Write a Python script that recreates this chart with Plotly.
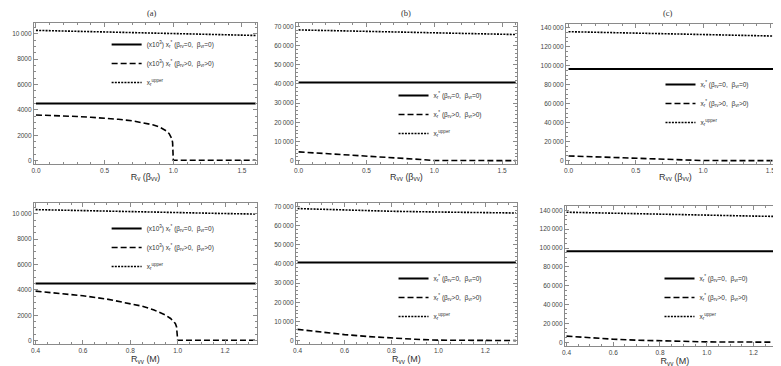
import plotly.graph_objects as go

W, H = 781, 366

# ---------------- data ----------------
# top row: x = R_v(beta_vv)
xa_top = [0, 0.1, 0.2, 0.3, 0.4, 0.5, 0.6, 0.7, 0.8, 0.85, 0.9, 0.93, 0.95, 0.97, 0.98, 0.99, 0.995, 1.0, 1.01, 1.1, 1.2, 1.3, 1.4, 1.5, 1.6]
dash_a_top = [3600, 3570, 3530, 3480, 3420, 3350, 3260, 3140, 2960, 2830, 2650, 2490, 2340, 2130, 1970, 1720, 1420, 40, 40, 40, 40, 40, 40, 40, 40]
xu_top = [0, 0.2, 0.4, 0.6, 0.8, 1.0, 1.2, 1.4, 1.6]
upper_a_top = [10260, 10210, 10160, 10110, 10060, 10010, 9960, 9910, 9860]
solid_a = 4500

xb_top = [0, 0.2, 0.4, 0.6, 0.8, 0.9, 1.0, 1.2, 1.4, 1.6]
dash_b_top = [4600, 3800, 2950, 2050, 1150, 650, 120, 60, 60, 60]
upper_b_top = [68100, 67800, 67500, 67200, 66900, 66600, 66300, 66000, 65700]
solid_b = 40700

xc_top = [0, 0.2, 0.4, 0.6, 0.8, 0.9, 1.0, 1.2, 1.4, 1.6]
dash_c_top = [5000, 4100, 3200, 2200, 1200, 700, 150, 80, 80, 80]
upper_c_top = [135800, 135200, 134600, 134000, 133400, 132800, 132200, 131600, 131000]
solid_c = 96500

# bottom row: x = R_vv(M)
xa_bot = [0.4, 0.5, 0.6, 0.7, 0.8, 0.85, 0.9, 0.93, 0.95, 0.97, 0.98, 0.99, 0.995, 1.0, 1.01, 1.1, 1.2, 1.33]
dash_a_bot = [3900, 3730, 3540, 3280, 2940, 2720, 2420, 2200, 2000, 1750, 1580, 1350, 1100, 40, 40, 40, 40, 40]
xu_bot = [0.4, 0.6, 0.8, 1.0, 1.2, 1.33]
upper_a_bot = [10320, 10230, 10150, 10080, 10010, 9970]

xbc_bot = [0.4, 0.5, 0.6, 0.7, 0.8, 0.9, 1.0, 1.1, 1.2, 1.33]
dash_b_bot = [5900, 4400, 3200, 2200, 1400, 750, 300, 150, 100, 80]
upper_b_bot = [68800, 68000, 67400, 67000, 66700, 66500]
dash_c_bot = [6500, 4600, 3200, 2200, 1450, 800, 350, 200, 150, 120]
upper_c_bot = [138000, 136800, 135600, 134700, 133900, 133400]

panel_titles = ["(a)", "(b)", "(c)"]
xlabel_top = ["R<sub>v</sub> (β<sub>vv</sub>)", "R<sub>vv</sub> (β<sub>vv</sub>)", "R<sub>vv</sub> (β<sub>vv</sub>)"]
xlabel_bot = "R<sub>vv</sub> (M)"

xt_top = [0, 0.5, 1.0, 1.5]
xt_top_txt = ["0.0", "0.5", "1.0", "1.5"]
xt_bot = [0.4, 0.6, 0.8, 1.0, 1.2]
xt_bot_txt = ["0.4", "0.6", "0.8", "1.0", "1.2"]
yt_a = [0, 2000, 4000, 6000, 8000, 10000]
yt_a_txt = ["0", "2000", "4000", "6000", "8000", "10\u2009000"]
yt_b = [0, 10000, 20000, 30000, 40000, 50000, 60000, 70000]
yt_b_txt = ["0", "10\u2009000", "20\u2009000", "30\u2009000", "40\u2009000", "50\u2009000", "60\u2009000", "70\u2009000"]
yt_c = [0, 20000, 40000, 60000, 80000, 100000, 120000, 140000]
yt_c_txt = ["0", "20\u2009000", "40\u2009000", "60\u2009000", "80\u2009000", "100\u2009000", "120\u2009000", "140\u2009000"]

lab_solid_a = "(x10<sup>3</sup>) x<sub>r</sub><sup>*</sup> (β<sub>rv</sub>=0,  β<sub>vr</sub>=0)"
lab_dash_a = "(x10<sup>3</sup>) x<sub>r</sub><sup>*</sup> (β<sub>rv</sub>>0,  β<sub>vr</sub>>0)"
lab_solid = "x<sub>r</sub><sup>*</sup> (β<sub>rv</sub>=0,  β<sub>vr</sub>=0)"
lab_dash = "x<sub>r</sub><sup>*</sup> (β<sub>rv</sub>>0,  β<sub>vr</sub>>0)"
lab_upper = "x<sub>r</sub><sup>upper</sup>"

# ---------------- layout geometry (pixels) ----------------
def px_x(p):
    return p / W

def px_y(p):
    return 1 - p / H

cols_top = [(23, 247), (286, 508), (557, 777)]
cols_bot = [(23, 247), (286, 508), (556, 777)]
rows_top = [(15, 156), (15, 156), (16, 156)]
rows_bot = [(195, 336), (195, 336), (198, 338)]

fig = go.Figure()

FRAME = "#8a8a8a"
SANS = "Liberation Sans, Arial, sans-serif"
TICKFONT = dict(family=SANS, size=6.5, color="#444")

panels = []
panels.append(("top", 0, xa_top, dash_a_top, xu_top, upper_a_top, solid_a, (lab_solid_a, lab_dash_a), [-0.015, 1.61], [-260, 10840], yt_a, yt_a_txt, 500))
panels.append(("top", 1, xb_top, dash_b_top, xu_top, upper_b_top, solid_b, (lab_solid, lab_dash), [-0.02, 1.61], [-1700, 71700], yt_b, yt_b_txt, 2000))
panels.append(("top", 2, xc_top, dash_c_top, xu_top, upper_c_top, solid_c, (lab_solid, lab_dash), [-0.02, 1.61], [-3500, 143900], yt_c, yt_c_txt, 5000))
panels.append(("bot", 0, xa_bot, dash_a_bot, xu_bot, upper_a_bot, solid_a, (lab_solid_a, lab_dash_a), [0.393, 1.335], [-260, 10840], yt_a, yt_a_txt, 500))
panels.append(("bot", 1, xbc_bot, dash_b_bot, xu_bot, upper_b_bot, solid_b, (lab_solid, lab_dash), [0.393, 1.335], [-1700, 71700], yt_b, yt_b_txt, 2000))
panels.append(("bot", 2, xbc_bot, dash_c_bot, xu_bot, upper_c_bot, solid_c, (lab_solid, lab_dash), [0.393, 1.335], [-4000, 144600], yt_c, yt_c_txt, 5000))

# legend pixel anchors (text start x, middle item centre y)
legend_pos = {
    ("top", 0): (144, 63), ("top", 1): (432, 114), ("top", 2): (700, 103),
    ("bot", 0): (144, 247), ("bot", 1): (432, 297), ("bot", 2): (699, 297),
}

annotations = []
for i, (row, c, xd, yd, xu, yu, sval, labs, xr, yr, ytv, ytt, ymin) in enumerate(panels):
    n = i + 1
    xa = "x" if n == 1 else f"x{n}"
    ya = "y" if n == 1 else f"y{n}"
    leg = "legend" if n == 1 else f"legend{n}"
    xs = [xd[0], xd[-1]]
    fig.add_trace(go.Scatter(x=xs, y=[sval, sval], mode="lines", xaxis=xa, yaxis=ya,
                             line=dict(color="black", width=2), name=labs[0], legend=leg,
                             legendgroup=f"g{n}a"))
    fig.add_trace(go.Scatter(x=xd, y=yd, mode="lines", xaxis=xa, yaxis=ya,
                             line=dict(color="black", width=1.6, dash="6px,3px"), name=labs[1], legend=leg,
                             legendgroup=f"g{n}b"))
    fig.add_trace(go.Scatter(x=xu, y=yu, mode="lines", xaxis=xa, yaxis=ya,
                             line=dict(color="black", width=1.6, dash="2px,1.2px"), name=lab_upper, legend=leg,
                             legendgroup=f"g{n}c"))

    cx = (cols_top if row == "top" else cols_bot)[c]
    ry = (rows_top if row == "top" else rows_bot)[c]
    top = row == "top"
    common_ax = dict(showline=True, linecolor=FRAME, linewidth=1, mirror="allticks",
                     ticks="inside", ticklen=4, tickcolor=FRAME, showgrid=False, zeroline=False,
                     tickfont=TICKFONT, fixedrange=True)
    xkey = "xaxis" if n == 1 else f"xaxis{n}"
    ykey = "yaxis" if n == 1 else f"yaxis{n}"
    lx, ly = legend_pos[(row, c)]
    fig.update_layout(**{
        xkey: dict(domain=[px_x(cx[0]), px_x(cx[1])], range=xr, anchor=ya,
                   tickvals=xt_top if top else xt_bot, ticktext=xt_top_txt if top else xt_bot_txt,
                   minor=dict(ticks="inside", ticklen=2, tickcolor=FRAME, dtick=0.1 if top else 0.05,
                              tick0=0),
                   title=dict(text=xlabel_top[c] if top else xlabel_bot,
                              font=dict(family=SANS, size=9, color="#333"),
                              standoff=0),
                   **common_ax),
        ykey: dict(domain=[px_y(ry[1]), px_y(ry[0])], range=yr, anchor=xa,
                   tickvals=ytv, ticktext=ytt,
                   minor=dict(ticks="inside", ticklen=2, tickcolor=FRAME, dtick=ymin, tick0=0),
                   **common_ax),
        leg: dict(x=px_x(lx - 48), y=px_y(ly - 41),
                  xanchor="left", yanchor="top", bgcolor="rgba(0,0,0,0)",
                  font=dict(family=SANS, size=6.5, color="#333"),
                  tracegroupgap=0, itemwidth=30),
    })
    if top:
        annotations.append(dict(text=panel_titles[c], x=px_x((cx[0] + cx[1]) / 2), y=px_y(5),
                                xref="paper", yref="paper", showarrow=False, yanchor="middle",
                                font=dict(family="Liberation Serif, Times New Roman, serif", size=8.5, color="#333")))

fig.update_layout(width=W, height=H, margin=dict(l=0, r=0, t=0, b=0),
                  paper_bgcolor="white", plot_bgcolor="white", showlegend=True,
                  annotations=annotations)

fig.write_html("out.html")
